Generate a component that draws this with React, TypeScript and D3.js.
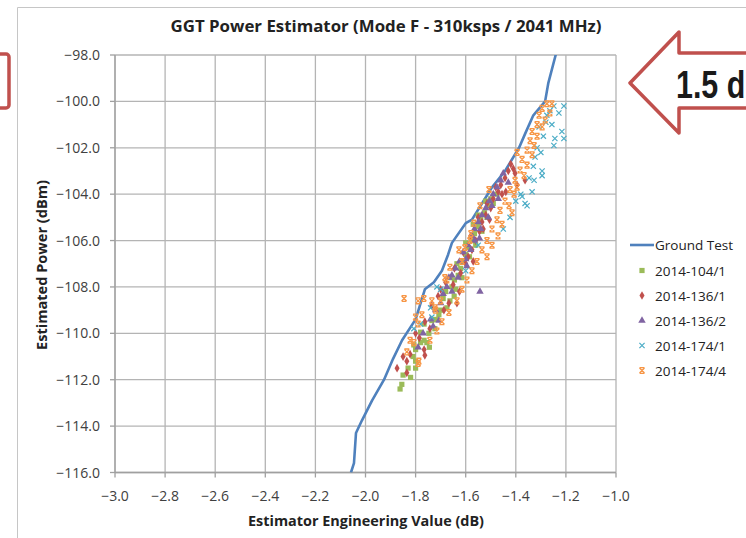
import React from "react";
import * as d3 from "d3";

const W = 746;
const H = 538;

const xTicks = [-3.0, -2.8, -2.6, -2.4, -2.2, -2.0, -1.8, -1.6, -1.4, -1.2, -1.0];
const yTicks = [-98, -100, -102, -104, -106, -108, -110, -112, -114, -116];

const titleText = "GGT Power Estimator (Mode F - 310ksps / 2041 MHz)";
const xTitle = "Estimator  Engineering Value (dB)";
const yTitle = "Estimated Power (dBm)";
const calloutText = "1.5 dB";

const seriesNames = ["Ground Test", "2014-104/1", "2014-136/1", "2014-136/2", "2014-174/1", "2014-174/4"];

const groundTest: [number, number][] = [
  [-2.058, -116.0], [-2.046, -115.6], [-2.038, -114.3], [-2.014, -113.75], [-1.974, -112.9],
  [-1.926, -112.0], [-1.89, -111.1], [-1.854, -110.3], [-1.80, -109.4], [-1.763, -108.1],
  [-1.727, -107.8], [-1.695, -107.3], [-1.67, -106.6], [-1.655, -106.1], [-1.60, -105.25],
  [-1.575, -105.1], [-1.535, -104.4], [-1.495, -103.7], [-1.443, -103.0], [-1.387, -102.0],
  [-1.363, -101.4], [-1.33, -100.6], [-1.283, -100.0], [-1.27, -99.2], [-1.236, -97.8],
];

const s104_1: [number, number][] = [
  [-1.862, -112.4], [-1.855, -112.2], [-1.82, -111.9], [-1.83, -111.5], [-1.80, -111.5],
  [-1.80, -111.2], [-1.80, -110.7], [-1.807, -110.5], [-1.78, -110.4], [-1.766, -110.3],
  [-1.755, -110.4], [-1.78, -109.95], [-1.747, -110.0], [-1.766, -109.6], [-1.723, -109.8],
  [-1.735, -109.45], [-1.707, -109.2], [-1.70, -109.0], [-1.675, -108.9], [-1.663, -108.6],
  [-1.646, -108.4], [-1.69, -108.5], [-1.68, -108.2], [-1.655, -108.0], [-1.645, -107.7],
  [-1.63, -107.5], [-1.66, -107.6], [-1.62, -107.2], [-1.61, -106.9], [-1.635, -107.0],
  [-1.60, -106.6], [-1.59, -106.3], [-1.575, -106.0], [-1.60, -106.1], [-1.565, -105.7],
  [-1.55, -105.4], [-1.57, -105.3], [-1.54, -105.1], [-1.525, -104.8], [-1.55, -104.9],
  [-1.51, -104.5], [-1.50, -104.2], [-1.52, -104.3], [-1.72, -109.4], [-1.745, -110.6],
  [-1.81, -111.0], [-1.85, -111.8], [-1.64, -108.1], [-1.615, -107.6], [-1.585, -106.7],
  [-1.56, -106.2], [-1.535, -105.6], [-1.515, -105.0], [-1.49, -104.4], [-1.475, -104.0],
];

const s136_1: [number, number][] = [
  [-1.874, -111.5], [-1.835, -111.2], [-1.835, -111.7], [-1.822, -110.9], [-1.766, -110.7],
  [-1.763, -110.95], [-1.80, -110.0], [-1.743, -109.8], [-1.763, -109.5], [-1.735, -108.8],
  [-1.687, -109.0], [-1.667, -108.7], [-1.635, -108.7], [-1.71, -108.4], [-1.65, -107.9],
  [-1.68, -107.8], [-1.62, -107.4], [-1.60, -107.0], [-1.645, -107.2], [-1.59, -106.7],
  [-1.575, -106.4], [-1.61, -106.5], [-1.56, -106.0], [-1.545, -105.6], [-1.58, -105.8],
  [-1.535, -105.2], [-1.52, -104.9], [-1.55, -105.0], [-1.50, -104.6], [-1.49, -104.2],
  [-1.515, -104.4], [-1.47, -103.9], [-1.46, -103.6], [-1.48, -103.7], [-1.443, -103.3],
  [-1.403, -103.1], [-1.43, -103.0], [-1.363, -103.4], [-1.42, -102.7], [-1.455, -104.0],
  [-1.53, -105.5], [-1.70, -108.1], [-1.785, -110.2], [-1.85, -111.0], [-1.625, -108.2],
  [-1.57, -106.9], [-1.505, -105.1], [-1.44, -103.9], [-1.41, -102.9], [-1.395, -103.6],
];

const s136_2: [number, number][] = [
  [-1.543, -108.2], [-1.667, -107.6], [-1.74, -109.4], [-1.72, -109.0], [-1.70, -108.7],
  [-1.69, -108.3], [-1.675, -108.0], [-1.655, -107.5], [-1.64, -107.2], [-1.625, -106.9],
  [-1.61, -106.5], [-1.59, -106.2], [-1.575, -105.8], [-1.565, -105.5], [-1.55, -105.2],
  [-1.535, -104.9], [-1.52, -104.6], [-1.505, -104.3], [-1.49, -104.0], [-1.475, -103.7],
  [-1.46, -103.4], [-1.45, -103.1], [-1.60, -106.8], [-1.58, -106.4], [-1.63, -107.6],
  [-1.565, -106.0], [-1.54, -105.5], [-1.51, -105.0], [-1.495, -104.5], [-1.77, -110.0],
  [-1.79, -110.6], [-1.73, -109.7], [-1.707, -109.45], [-1.655, -108.2], [-1.47, -104.2],
  [-1.43, -103.5], [-1.595, -107.1], [-1.545, -105.9],
];

const s174_1: [number, number][] = [
  [-1.807, -109.8], [-1.735, -109.3], [-1.715, -108.0], [-1.70, -108.1], [-1.363, -104.4],
  [-1.423, -105.0], [-1.335, -103.9], [-1.355, -104.5], [-1.208, -100.2], [-1.248, -100.2],
  [-1.228, -100.5], [-1.216, -101.3], [-1.208, -101.6], [-1.244, -101.6], [-1.248, -101.9],
  [-1.276, -100.6], [-1.256, -101.0], [-1.295, -103.0], [-1.295, -103.2], [-1.327, -103.4],
  [-1.347, -103.3], [-1.323, -102.4], [-1.315, -102.0], [-1.264, -100.4], [-1.307, -101.1],
  [-1.28, -100.9], [-1.29, -101.5], [-1.30, -102.2], [-1.33, -102.8], [-1.38, -104.0],
  [-1.40, -104.3], [-1.45, -105.5], [-1.60, -107.3], [-1.55, -106.2], [-1.78, -109.6],
  [-1.74, -108.9], [-1.375, -104.1],
];

const s174_4: [number, number][] = [
  [-1.256, -100.1], [-1.276, -100.1], [-1.295, -100.3], [-1.264, -100.5], [-1.307, -100.6],
  [-1.283, -100.8], [-1.315, -101.0], [-1.295, -101.1], [-1.335, -101.3], [-1.315, -101.5],
  [-1.343, -101.7], [-1.327, -101.9], [-1.355, -102.1], [-1.335, -102.3], [-1.375, -102.5],
  [-1.355, -102.75], [-1.383, -102.96], [-1.367, -103.2], [-1.403, -103.4], [-1.395, -103.7],
  [-1.423, -103.8], [-1.407, -104.0], [-1.443, -104.3], [-1.427, -104.5], [-1.463, -104.7],
  [-1.415, -104.8], [-1.475, -105.1], [-1.455, -105.3], [-1.495, -105.5], [-1.471, -105.8],
  [-1.515, -106.0], [-1.495, -106.2], [-1.535, -106.4], [-1.515, -106.7], [-1.555, -106.9],
  [-1.575, -107.3], [-1.595, -107.7], [-1.615, -108.1], [-1.635, -108.6], [-1.667, -109.1],
  [-1.695, -109.5], [-1.715, -109.9], [-1.743, -110.3], [-1.627, -106.4], [-1.663, -107.15],
  [-1.615, -106.9], [-1.583, -106.0], [-1.683, -107.6], [-1.70, -108.6], [-1.72, -109.0],
  [-1.846, -108.5], [-1.767, -108.5], [-1.79, -108.6], [-1.80, -109.3], [-1.79, -109.6],
  [-1.807, -110.4], [-1.835, -110.8], [-1.787, -111.2], [-1.775, -109.2], [-1.735, -108.6],
  [-1.723, -108.9], [-1.822, -110.3], [-1.79, -111.3], [-1.543, -104.5], [-1.567, -105.25],
  [-1.579, -105.7], [-1.603, -106.3], [-1.675, -107.7], [-1.507, -103.8], [-1.395, -102.2],
];

const C_LINE = "#4f81bd";
const C_GREEN = "#9bbb59";
const C_RED = "#c0504d";
const C_PURPLE = "#8064a2";
const C_CYAN = "#4bacc6";
const C_ORANGE = "#f79646";

const FONT = "'Open Sans', 'Liberation Sans', sans-serif";

const x = d3.scaleLinear().domain([-3.0, -1.0]).range([115, 616]);
const y = d3.scaleLinear().domain([-98, -116]).range([55, 472.5]);

const line = d3
  .line<[number, number]>()
  .x((d) => x(d[0]))
  .y((d) => y(d[1]));

const diamond = d3.symbol().type(d3.symbolDiamond).size(22)() as string;
const triangle = d3.symbol().type(d3.symbolTriangle).size(24)() as string;
const xMark = "M-2.6,-2.6L2.6,2.6M2.6,-2.6L-2.6,2.6";
const xBar = "M-2.5,-2.5L2.5,2.5M2.5,-2.5L-2.5,2.5M-2.5,-2.9L2.5,-2.9M-2.5,2.9L2.5,2.9";

function Marker({ kind, cx, cy }: { kind: number; cx: number; cy: number }) {
  const t = `translate(${cx},${cy})`;
  if (kind === 1) return <rect x={cx - 2.6} y={cy - 2.6} width={5.2} height={5.2} fill={C_GREEN} />;
  if (kind === 2) return <path d={diamond} transform={t} fill={C_RED} />;
  if (kind === 3) return <path d={triangle} transform={t} fill={C_PURPLE} />;
  if (kind === 4) return <path d={xMark} transform={t} stroke={C_CYAN} strokeWidth={1.2} fill="none" />;
  return <path d={xBar} transform={t} stroke={C_ORANGE} strokeWidth={1.3} fill="none" />;
}

const scatterSeries: { kind: number; data: [number, number][] }[] = [
  { kind: 1, data: s104_1 },
  { kind: 2, data: s136_1 },
  { kind: 3, data: s136_2 },
  { kind: 4, data: s174_1 },
  { kind: 5, data: s174_4 },
];

export default function App() {
  const [x0, x1] = x.range();
  const [y0, y1] = y.range();
  const legendY = [245, 270.5, 295.5, 320.5, 345.5, 370.5];
  return (
    <svg
      width={W}
      height={H}
      viewBox={`0 0 ${W} ${H}`}
      style={{ position: "absolute", left: 0, top: 0, background: "#fff" }}
      fontFamily={FONT}
    >
      <defs>
        <clipPath id="plot">
          <rect x={x0} y={y0} width={x1 - x0} height={y1 - y0} />
        </clipPath>
      </defs>
      <rect x={0} y={0} width={W} height={H} fill="#fff" />
      <path d={`M17.5,${H}L17.5,7.5L${W},7.5`} stroke="#c6c6c6" strokeWidth={1} fill="none" />

      <rect x={-20} y={54} width={29} height={54} rx={3} fill="none" stroke="#c0504d" strokeWidth={3.5} />

      <path
        d="M630,83L679,32L679,53L770,53L770,108L679,108L679,133Z"
        fill="#fff"
        stroke="#c0504d"
        strokeWidth={3.5}
        strokeLinejoin="round"
      />
      <text
        transform="translate(676,98) scale(0.8,1)"
        fontFamily="'Liberation Sans', Arial, sans-serif"
        fontWeight="bold"
        fontSize={38}
        fill="#1a1a1a"
      >
        {calloutText}
      </text>

      <text x={386} y={32} textAnchor="middle" fontWeight="bold" fontSize={15.5} fill="#222" textLength={431} lengthAdjust="spacingAndGlyphs">
        {titleText}
      </text>

      {xTicks.map((t) => (
        <line key={"gx" + t} x1={x(t)} x2={x(t)} y1={y0} y2={y1} stroke="#b4b4b4" strokeWidth={1.3} />
      ))}
      {yTicks.map((t) => (
        <line key={"gy" + t} x1={x0} x2={x1} y1={y(t)} y2={y(t)} stroke="#b4b4b4" strokeWidth={1.3} />
      ))}
      <line x1={x0} x2={x0} y1={y0} y2={y1} stroke="#a0a0a0" strokeWidth={1.3} />
      <line x1={x0} x2={x1} y1={y1} y2={y1} stroke="#a0a0a0" strokeWidth={1.3} />
      {yTicks.map((t) => (
        <line key={"ty" + t} x1={x0 - 5} x2={x0} y1={y(t)} y2={y(t)} stroke="#a0a0a0" strokeWidth={1.3} />
      ))}
      {xTicks.map((t) => (
        <line key={"tx" + t} x1={x(t)} x2={x(t)} y1={y1} y2={y1 + 5} stroke="#a0a0a0" strokeWidth={1.3} />
      ))}
      {yTicks.map((t) => (
        <text key={"ly" + t} x={100} y={y(t) + 5} textAnchor="end" fontSize={14} fill="#404040">
          {d3.format(".1f")(t)}
        </text>
      ))}
      {xTicks.map((t) => (
        <text key={"lx" + t} x={x(t)} y={501} textAnchor="middle" fontSize={14} fill="#404040">
          {d3.format(".1f")(t)}
        </text>
      ))}

      <text x={366} y={526} textAnchor="middle" fontWeight="bold" fontSize={14} fill="#222" textLength={236} lengthAdjust="spacingAndGlyphs">
        {xTitle}
      </text>
      <text
        transform="translate(47,265) rotate(-90)"
        textAnchor="middle"
        fontWeight="bold"
        fontSize={14}
        fill="#222"
        textLength={170}
        lengthAdjust="spacingAndGlyphs"
      >
        {yTitle}
      </text>

      <g clipPath="url(#plot)">
        <path d={line(groundTest) || ""} fill="none" stroke={C_LINE} strokeWidth={2.6} strokeLinejoin="round" />
      </g>

      {scatterSeries.map((s) => (
        <g key={"s" + s.kind}>
          {s.data.map((d, i) => (
            <Marker key={i} kind={s.kind} cx={x(d[0])} cy={y(d[1])} />
          ))}
        </g>
      ))}

      <line x1={630} x2={654} y1={legendY[0]} y2={legendY[0]} stroke={C_LINE} strokeWidth={2.6} />
      {seriesNames.map((n, i) => (
        <g key={n}>
          {i > 0 && <Marker kind={i} cx={642} cy={legendY[i]} />}
          <text x={655} y={legendY[i] + 5} fontSize={13.5} fill="#222">
            {n}
          </text>
        </g>
      ))}
    </svg>
  );
}
